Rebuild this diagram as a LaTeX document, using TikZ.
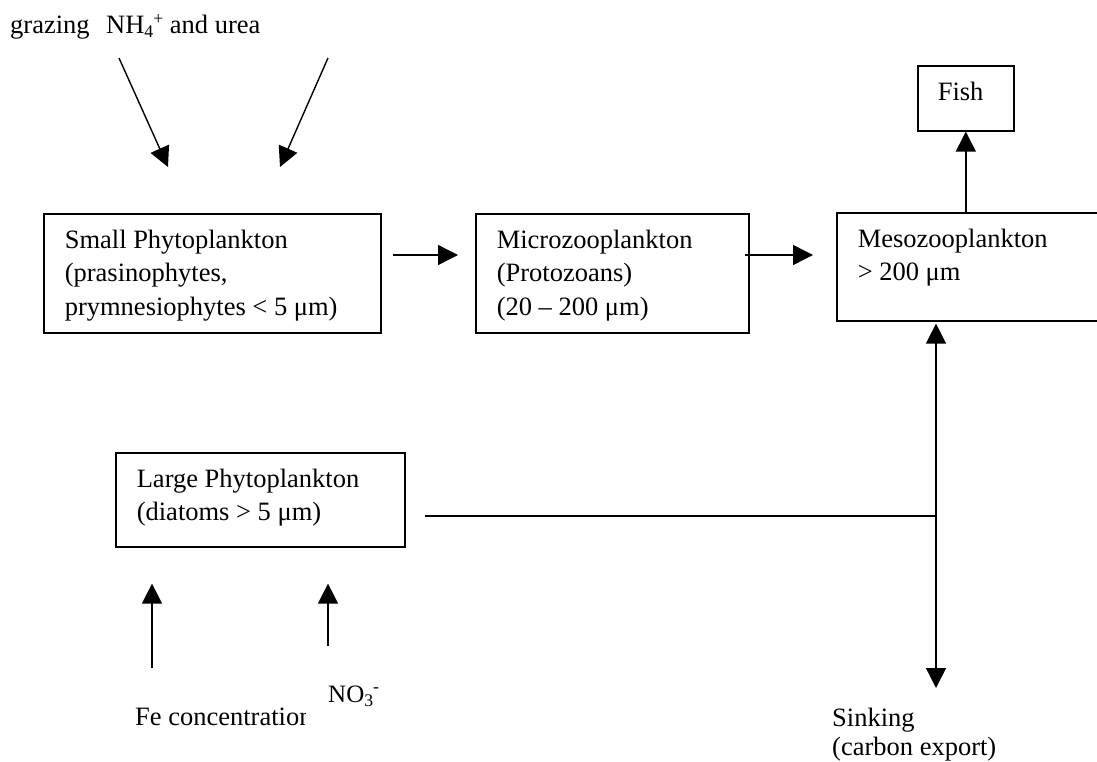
\documentclass[tikz,border=0pt]{standalone}
\usepackage{fontspec}
\setmainfont{Liberation Serif}
\usetikzlibrary{arrows.meta}
% lowered / raised small text for chemical formulae
\newcommand\lowtext[2][-3.5pt]{\raisebox{#1}{\fontsize{17.7}{17.7}\selectfont #2}}
\newcommand\hightext[2][9pt]{\raisebox{#1}{\fontsize{17.7}{17.7}\selectfont #2}}
% top-aligned box contents: width, height, text
\newcommand\boxtext[3]{\parbox[t][#2][t]{#1}{\leftskip=21pt\rule{0pt}{34.5pt}#3}}
\begin{document}
\begin{tikzpicture}[x=1pt,y=-1pt,
  every node/.style={font=\fontsize{26.5}{33.5}\selectfont},
  box/.style={draw, line width=1.6pt, inner sep=0pt, anchor=north west},
  arr/.style={line width=1.4pt, -{Triangle[length=20pt,width=20pt]}},
  link/.style={line width=1.4pt},
  lbl/.style={inner sep=0pt, anchor=base west}]
\useasboundingbox (0,0) rectangle (1097,762);
\fill[white] (0,0) rectangle (1097,762);

% food-web compartments
\node[box] (small) at (43,213) {\boxtext{337pt}{119pt}{Small Phytoplankton\\(prasinophytes,\\prymnesiophytes < 5 μm)}};
\node[box] (micro) at (475,213) {\boxtext{273pt}{119pt}{Microzooplankton\\(Protozoans)\\(20 – 200 μm)}};
\node[box] (meso) at (836,212) {\boxtext{300pt}{108pt}{Mesozooplankton\\> 200 μm}};
\node[box] (fish) at (917,65) {\parbox[t][65pt][t]{96pt}{\leftskip=20pt\rule{0pt}{35pt}Fish}};
\node[box] (large) at (115,452) {\boxtext{289pt}{94pt}{Large Phytoplankton\\(diatoms > 5 μm)}};

% free labels
\node[lbl] (graz) at (10,34) {grazing\hspace{16.5pt}NH\lowtext{4}\hightext{+} and urea};
\node[lbl, font=\fontsize{25}{30}\selectfont] (no3) at (328,702) {NO\lowtext[-4pt]{3}\hightext[10pt]{-}};
\begin{scope}
  \clip (0,600) rectangle (305,762);
  \node[lbl] (fe) at (135,725) {Fe concentration};
\end{scope}
\node[inner sep=0pt, anchor=north west, align=left, font=\fontsize{26.5}{29}\selectfont] (sink) at (832,706) {\rule{0pt}{20pt}Sinking\\(carbon export)};

% free ends of the input arrows
\coordinate (grazstart) at (119,58);
\coordinate (ureastart) at (328,58);
\coordinate (festart) at (152,668);
\coordinate (no3start) at (328,646);
\coordinate (junc) at (936,516);
\coordinate (sinkend) at (936,688);

% inputs to the small phytoplankton
\draw[arr] (grazstart) -- ([xshift=125pt,yshift=46pt]small.north west);
\draw[arr] (ureastart) -- ([xshift=237pt,yshift=46pt]small.north west);

% grazing chain
\draw[arr] ([xshift=11pt,yshift=-42pt]small.north east) -- ([xshift=-17pt,yshift=-42pt]micro.north west);
\draw[arr] ([xshift=-5pt,yshift=-42pt]micro.north east) -- ([xshift=-23pt,yshift=-43pt]meso.north west);
\draw[arr] (meso.north -| fish.south) -- (fish.south);

% inputs to the large phytoplankton
\draw[arr] (festart) -- ([xshift=37pt,yshift=-36pt]large.south west);
\draw[arr] (no3start) -- ([xshift=213pt,yshift=-36pt]large.south west);

% diatom pathway: to mesozooplankton and to sinking
\draw[link] ([xshift=19pt]large.south east |- junc) -- (junc);
\draw[arr] (junc) -- ([yshift=-2pt]junc |- meso.south);
\draw[arr] (junc) -- (sinkend);
\end{tikzpicture}
\end{document}
